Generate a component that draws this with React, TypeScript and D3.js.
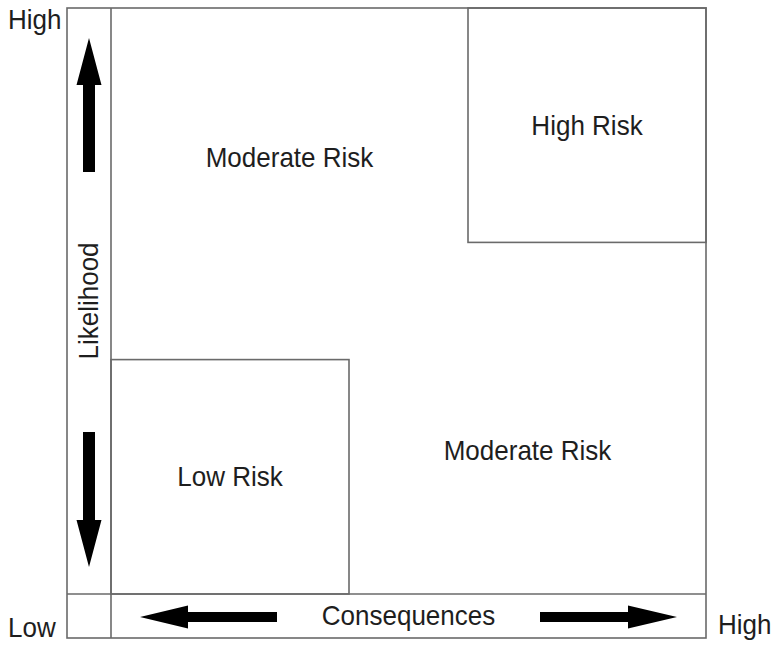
import React from "react";
import * as d3 from "d3";

// ---- data ----
const zoneNames = ["Low Risk", "Moderate Risk", "Moderate Risk", "High Risk"];
// zone extents in consequence (x) and likelihood (y) units, 0..1
const zoneX0 = [0, 0, 0.4, 0.6];
const zoneX1 = [0.4, 0.6, 1, 1];
const zoneY0 = [0, 0.6, 0, 0.6];
const zoneY1 = [0.4, 1, 0.4, 1];
const boxed = [true, false, false, true];
// label anchor (centre) per zone
const labelX = [0.2, 0.3, 0.7, 0.8];
const labelY = [0.2, 0.745, 0.245, 0.8];
const axisTitles = ["Consequences", "Likelihood"];
const endLabels = ["Low", "High"];

const W = 772;
const H = 645;
const left = 111, right = 706, top = 8, bottom = 594;
const outerLeft = 67, outerBottom = 638;
const stroke = "#6a6a6a";
const ink = "#1e1e1e";
const font = "'Liberation Sans', Arial, Helvetica, sans-serif";
const FS = 28;
const SX = 0.93;

function arrowPath(
  orient: "up" | "down" | "left" | "right",
  c: number,
  tail: number,
  base: number,
  tip: number,
  shaftHalf: number,
  headHalf: number
) {
  const p = d3.path();
  if (orient === "up" || orient === "down") {
    p.moveTo(c - shaftHalf, tail);
    p.lineTo(c - shaftHalf, base);
    p.lineTo(c - headHalf, base);
    p.lineTo(c, tip);
    p.lineTo(c + headHalf, base);
    p.lineTo(c + shaftHalf, base);
    p.lineTo(c + shaftHalf, tail);
  } else {
    p.moveTo(tail, c - shaftHalf);
    p.lineTo(base, c - shaftHalf);
    p.lineTo(base, c - headHalf);
    p.lineTo(tip, c);
    p.lineTo(base, c + headHalf);
    p.lineTo(base, c + shaftHalf);
    p.lineTo(tail, c + shaftHalf);
  }
  p.closePath();
  return p.toString();
}

function Label(props: {
  x: number;
  y: number;
  text: string;
  anchor?: string;
  rotate?: number;
  central?: boolean;
}) {
  const { x, y, text, anchor = "middle", rotate = 0, central = true } = props;
  return (
    <text
      transform={`translate(${x},${y}) rotate(${rotate}) scale(${SX},1)`}
      textAnchor={anchor}
      dominantBaseline={central ? "central" : "auto"}
    >
      {text}
    </text>
  );
}

export default function App() {
  const x = d3.scaleLinear().domain([0, 1]).range([left, right]);
  const y = d3.scaleLinear().domain([0, 1]).range([bottom, top]);
  const stripX = (outerLeft + left) / 2;
  const stripY = (bottom + outerBottom) / 2;

  return (
    <svg
      width={W}
      height={H}
      viewBox={`0 0 ${W} ${H}`}
      style={{ position: "fixed", left: 0, top: 0, background: "#fff" }}
    >
      <rect x={0} y={0} width={W} height={H} fill="#fff" />
      <g fill="none" stroke={stroke} strokeWidth={1.6}>
        <rect x={outerLeft} y={top} width={right - outerLeft} height={outerBottom - top} />
        <line x1={left} y1={top} x2={left} y2={outerBottom} />
        <line x1={outerLeft} y1={bottom} x2={right} y2={bottom} />
        {zoneNames.map((n, i) =>
          boxed[i] ? (
            <rect
              key={i}
              x={x(zoneX0[i])}
              y={y(zoneY1[i])}
              width={x(zoneX1[i]) - x(zoneX0[i])}
              height={y(zoneY0[i]) - y(zoneY1[i])}
            />
          ) : null
        )}
      </g>

      <g fill={ink} fontFamily={font} fontSize={FS}>
        {zoneNames.map((n, i) => (
          <Label key={i} x={x(labelX[i])} y={y(labelY[i])} text={n} />
        ))}
        <Label x={x(0.5)} y={stripY} text={axisTitles[0]} />
        <Label x={stripX} y={(y(0.4) + y(0.6)) / 2} rotate={-90} text={axisTitles[1]} />
        <Label x={8} y={29} anchor="start" central={false} text={endLabels[1]} />
        <Label x={8} y={637} anchor="start" central={false} text={endLabels[0]} />
        <Label x={718} y={634} anchor="start" central={false} text={endLabels[1]} />
      </g>

      <g fill="#000">
        <path d={arrowPath("up", stripX, 172, 85, 38, 6, 12.5)} />
        <path d={arrowPath("down", stripX, 432, 520, 567, 6, 12.5)} />
        <path d={arrowPath("left", stripY + 1, 277, 188, 140, 5, 11.5)} />
        <path d={arrowPath("right", stripY + 1, 540, 628, 677, 5, 11.5)} />
      </g>
    </svg>
  );
}
